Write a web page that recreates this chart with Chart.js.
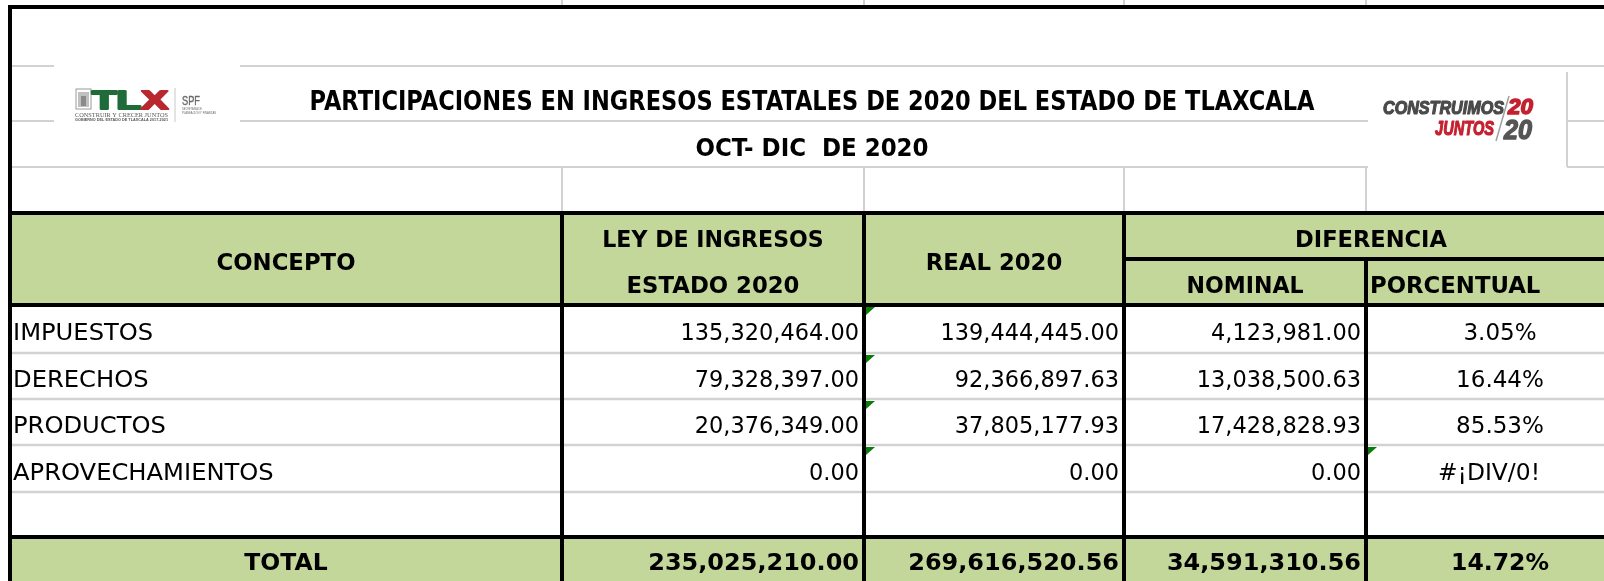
<!DOCTYPE html>
<html>
<head>
<meta charset="utf-8">
<script src="https://cdn.jsdelivr.net/npm/chart.js@4.4.1/dist/chart.umd.min.js"></script>
<style>
  html, body { margin: 0; padding: 0; background: #fff; overflow: hidden; }
  canvas { display: block; }
</style>
</head>
<body>
<canvas id="tabla" width="1604" height="581"></canvas>
<script>
// datos
const titulo = "PARTICIPACIONES EN INGRESOS ESTATALES DE 2020 DEL ESTADO DE TLAXCALA";
const periodo = "OCT- DIC  DE 2020";
const conceptos = ["IMPUESTOS", "DERECHOS", "PRODUCTOS", "APROVECHAMIENTOS"];
const leyIngresos = [135320464.0, 79328397.0, 20376349.0, 0.0];
const real2020 = [139444445.0, 92366897.63, 37805177.93, 0.0];
const nominal = [4123981.0, 13038500.63, 17428828.93, 0.0];
const porcentual = [3.05, 16.44, 85.53, null]; // null -> #¡DIV/0!
const totales = [235025210.0, 269616520.56, 34591310.56];
const totalPorcentual = 14.72;

// layout (unidades de la escala = px de la hoja)
const colX = [10, 562, 864, 1124, 1366, 1634];
const filaEnc = [213, 259, 305];
const filaDatos = [305, 353, 399, 445, 492, 537];
const filaTotal = [537, 583];
const verde = "#C4D79B";
const gris = "#D2D2D2";

const fmt = (v) => v.toLocaleString("en-US", { minimumFractionDigits: 2, maximumFractionDigits: 2 });
const fmtPct = (p) => (p === null ? "#\u00A1DIV/0!" : p.toFixed(2) + "%");

// texto ajustado a un ancho
function textoAjustado(ctx, s, x, y, ancho, align) {
  const k = ancho / ctx.measureText(s).width;
  textoEscala(ctx, s, x, y, k, align);
}

// texto con escala horizontal
function textoEscala(ctx, s, x, y, k, align) {
  ctx.save();
  ctx.translate(x, y);
  ctx.scale(k, 1);
  ctx.textAlign = align || "left";
  ctx.fillText(s, 0, 0);
  ctx.restore();
}

// texto mas grueso (para los logos)
function textoGrueso(ctx, s, x, y, ancho, grosor) {
  const k = ancho / ctx.measureText(s).width;
  ctx.save();
  ctx.translate(x, y);
  ctx.scale(k, 1);
  ctx.textAlign = "left";
  ctx.lineJoin = "round";
  ctx.lineWidth = grosor;
  ctx.strokeStyle = ctx.fillStyle;
  ctx.strokeText(s, 0, 0);
  ctx.fillText(s, 0, 0);
  ctx.restore();
}

const tablaPlugin = {
  id: "tabla",
  afterDraw(chart) {
    const ctx = chart.ctx;
    const X = (v) => chart.scales.x.getPixelForValue(v);
    const Y = (v) => chart.scales.y.getPixelForValue(v);
    const derecha = X(1604);

    const linea = (x1, y1, x2, y2, color, w) => {
      ctx.beginPath();
      ctx.strokeStyle = color;
      ctx.lineWidth = w;
      ctx.moveTo(X(x1), Y(y1));
      ctx.lineTo(X(x2), Y(y2));
      ctx.stroke();
    };

    ctx.save();
    ctx.fillStyle = "#fff";
    ctx.fillRect(0, 0, chart.width, chart.height);

    // rellenos verdes
    ctx.fillStyle = verde;
    ctx.fillRect(X(colX[0]), Y(filaEnc[0]), derecha - X(colX[0]), Y(filaEnc[2]) - Y(filaEnc[0]));
    ctx.fillRect(X(colX[0]), Y(filaTotal[0]), derecha - X(colX[0]), Y(filaTotal[1]) - Y(filaTotal[0]));

    // cuadricula gris
    linea(10, 66, 54, 66, gris, 2);
    linea(240, 66, 1604, 66, gris, 2);
    linea(10, 121, 54, 121, gris, 2);
    linea(240, 121, 1368, 121, gris, 2);
    linea(1567, 121, 1604, 121, gris, 2);
    linea(10, 167, 1368, 167, gris, 2);
    linea(1567, 167, 1604, 167, gris, 2);
    linea(1567, 72, 1567, 167, gris, 2);
    for (let i = 1; i < 5; i++) {
      linea(colX[i], 167, colX[i], filaEnc[0], gris, 2);
      linea(colX[i], 0, colX[i], 5, gris, 2);
    }
    for (let i = 1; i < filaDatos.length - 1; i++) {
      linea(colX[0], filaDatos[i], 1604, filaDatos[i], gris, 2.5);
    }

    // bordes negros
    const negro = "#000";
    linea(8, 7, 1604, 7, negro, 4);
    linea(10, 5, 10, 581, negro, 4);
    linea(10, filaEnc[0], 1604, filaEnc[0], negro, 4);
    linea(colX[3], filaEnc[1], 1604, filaEnc[1], negro, 4);
    linea(10, filaEnc[2], 1604, filaEnc[2], negro, 4);
    linea(10, filaTotal[0], 1604, filaTotal[0], negro, 4);
    for (let i = 1; i < 4; i++) linea(colX[i], filaEnc[0], colX[i], 581, negro, 4);
    linea(colX[4], filaEnc[1], colX[4], 581, negro, 4);

    // titulo
    ctx.fillStyle = "#000";
    ctx.textBaseline = "alphabetic";
    ctx.font = "bold 26px 'DejaVu Sans'";
    textoAjustado(ctx, titulo, X(812), Y(110), 1005, "center");
    ctx.font = "bold 24px 'DejaVu Sans'";
    textoAjustado(ctx, periodo, X(812), Y(156), 233, "center");

    // encabezados
    const mid = (a, b) => (X(a) + X(b)) / 2;
    const base = (a, b, d) => (Y(a) + Y(b)) / 2 + d;
    ctx.font = "bold 23px 'DejaVu Sans'";
    textoEscala(ctx, "CONCEPTO", mid(colX[0], colX[1]), base(filaEnc[0], filaEnc[2], 10.5), 0.99, "center");
    textoEscala(ctx, "LEY DE INGRESOS", mid(colX[1], colX[2]), base(filaEnc[0], filaEnc[1], 10.5), 0.96, "center");
    textoEscala(ctx, "ESTADO 2020", mid(colX[1], colX[2]), base(filaEnc[1], filaEnc[2], 10.5), 0.99, "center");
    textoEscala(ctx, "REAL 2020", mid(colX[2], colX[3]), base(filaEnc[0], filaEnc[2], 10.5), 0.99, "center");
    textoEscala(ctx, "DIFERENCIA", mid(colX[3], 1618), base(filaEnc[0], filaEnc[1], 10.5), 0.98, "center");
    textoEscala(ctx, "NOMINAL", mid(colX[3], colX[4]), base(filaEnc[1], filaEnc[2], 10.5), 0.96, "center");
    textoEscala(ctx, "PORCENTUAL", X(colX[4] + 4), base(filaEnc[1], filaEnc[2], 10.5), 0.99, "left");

    // filas de datos
    ctx.font = "23.5px 'DejaVu Sans'";
    conceptos.forEach((c, i) => {
      const y = base(filaDatos[i], filaDatos[i + 1], 11.3);
      textoEscala(ctx, c, X(colX[0] + 3), y, 1.03, "left");
      textoEscala(ctx, fmt(leyIngresos[i]), X(colX[2] - 5), y, 0.955, "right");
      textoEscala(ctx, fmt(real2020[i]), X(colX[3] - 5), y, 0.955, "right");
      textoEscala(ctx, fmt(nominal[i]), X(colX[4] - 5), y, 0.955, "right");
      if (porcentual[i] === null) {
        textoAjustado(ctx, fmtPct(porcentual[i]), X(1489), y, 102, "center");
      } else {
        textoEscala(ctx, fmtPct(porcentual[i]), X(1500), y, 0.98, "center");
      }
    });

    // total
    ctx.font = "bold 23.5px 'DejaVu Sans'";
    const yt = base(filaTotal[0], filaTotal[1], 9.5);
    textoEscala(ctx, "TOTAL", mid(colX[0], colX[1]), yt, 1, "center");
    totales.forEach((t, i) => textoEscala(ctx, fmt(t), X(colX[i + 2] - 5), yt, 1.02, "right"));
    textoEscala(ctx, fmtPct(totalPorcentual), X(1500), yt, 1, "center");

    // indicadores verdes de Excel
    ctx.fillStyle = "#0A7A0A";
    const triangulo = (x, y) => {
      ctx.beginPath();
      ctx.moveTo(X(x), Y(y));
      ctx.lineTo(X(x + 9), Y(y));
      ctx.lineTo(X(x), Y(y + 8));
      ctx.closePath();
      ctx.fill();
    };
    for (let i = 0; i < conceptos.length; i++) triangulo(colX[2] + 2, filaDatos[i] + 2);
    triangulo(colX[4] + 2, filaDatos[3] + 2);

    // logo TLX
    ctx.strokeStyle = "#9a9a9a";
    ctx.lineWidth = 1;
    ctx.strokeRect(X(76), Y(89), X(91) - X(76), Y(109) - Y(89));
    ctx.fillStyle = "#c0c0c0";
    ctx.fillRect(X(78), Y(92), X(89) - X(78), Y(107) - Y(92));
    ctx.fillStyle = "#8a8a8a";
    ctx.fillRect(X(81), Y(96), X(86) - X(81), Y(106) - Y(96));
    ctx.font = "bold 26px 'Liberation Sans'";
    const letras = [["T", "#1F6B3A"], ["L", "#1F6B3A"], ["X", "#B8282E"]];
    const anchoLetras = letras.reduce((s, l) => s + ctx.measureText(l[0]).width, 0);
    const k = 76 / anchoLetras;
    let xl = X(92);
    letras.forEach(([l, col]) => {
      ctx.fillStyle = col;
      const w = ctx.measureText(l).width;
      textoGrueso(ctx, l, xl, Y(108.5), w * k, 2.2);
      xl += w * k;
    });
    ctx.fillStyle = "#555";
    ctx.font = "7px 'Liberation Serif'";
    textoAjustado(ctx, "CONSTRUIR Y CRECER JUNTOS", X(75), Y(116.5), 93, "left");
    ctx.font = "bold 4px 'Liberation Sans'";
    textoAjustado(ctx, "GOBIERNO DEL ESTADO DE TLAXCALA 2017-2021", X(75), Y(121), 93, "left");
    linea(175, 88, 175, 122, "#c8c8c8", 1);
    ctx.fillStyle = "#6a6a6a";
    ctx.font = "12.5px 'Liberation Sans'";
    textoGrueso(ctx, "SPF", X(182), Y(105), 18, 0.4);
    ctx.font = "4px 'Liberation Sans'";
    textoAjustado(ctx, "SECRETAR\u00CDA DE", X(182), Y(109.5), 20, "left");
    textoAjustado(ctx, "PLANEACI\u00D3N Y FINANZAS", X(182), Y(113.5), 34, "left");

    // logo CONSTRUIMOS JUNTOS 2020
    ctx.font = "italic bold 19px 'Liberation Sans Narrow', 'Liberation Sans'";
    ctx.fillStyle = "#4a4a4a";
    textoGrueso(ctx, "CONSTRUIMOS", X(1383), Y(114), 121, 1.2);
    ctx.fillStyle = "#C4202F";
    ctx.font = "italic bold 21px 'Liberation Sans Narrow', 'Liberation Sans'";
    textoGrueso(ctx, "JUNTOS", X(1435), Y(135), 59, 1.2);
    ctx.font = "italic bold 22px 'Liberation Sans Narrow', 'Liberation Sans'";
    textoGrueso(ctx, "20", X(1508), Y(114), 25, 1.4);
    ctx.fillStyle = "#555";
    ctx.font = "italic bold 27px 'Liberation Sans Narrow', 'Liberation Sans'";
    textoGrueso(ctx, "20", X(1504), Y(139), 28, 1.4);
    linea(1509, 96, 1496, 141, "#a0a0a0", 1.5);

    ctx.restore();
  },
};

new Chart(document.getElementById("tabla"), {
  type: "scatter",
  data: { datasets: [{ data: [] }] },
  options: {
    responsive: false,
    animation: false,
    devicePixelRatio: 1,
    events: [],
    layout: { padding: 0 },
    plugins: { legend: { display: false }, tooltip: { enabled: false } },
    scales: {
      x: { type: "linear", min: 0, max: 1604, display: false },
      y: { type: "linear", min: 0, max: 581, reverse: true, display: false },
    },
  },
  plugins: [tablaPlugin],
});
</script>
</body>
</html>
